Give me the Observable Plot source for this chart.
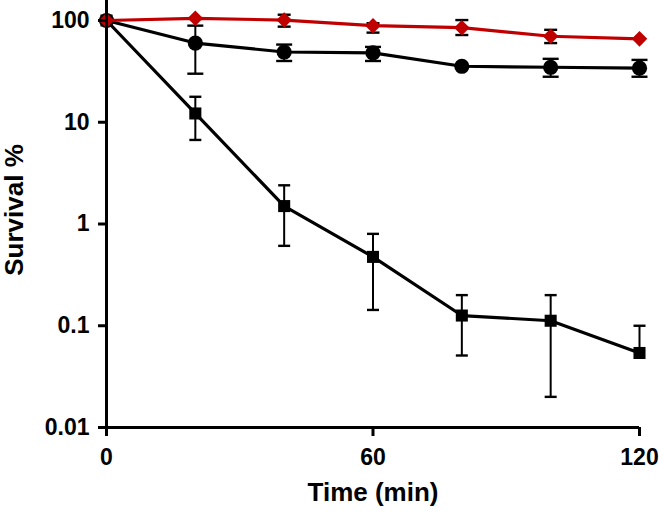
<!DOCTYPE html>
<html>
<head>
<meta charset="utf-8">
<script src="https://cdn.jsdelivr.net/npm/d3@7"></script>
<script src="https://cdn.jsdelivr.net/npm/@observablehq/plot@0.6"></script>
<style>
  html, body { margin: 0; padding: 0; background: #fff; }
  #chart svg { display: block; }
</style>
</head>
<body>
<div id="chart"></div>
<script>
// ---- data ----
const time = [0, 20, 40, 60, 80, 100, 120];

// red diamonds
const diamondVal = [100, 105, 101, 89, 85, 70, 66];
const diamondHi  = [null, null, 114, 94, 101, 81, null];
const diamondLo  = [null, null, 87, 76, 72, 60, null];

// black circles
const circleVal = [100, 60, 49, 48, 35.5, 34.7, 34];
const circleHi  = [null, 89, 58, 55, null, 42, 41];
const circleLo  = [null, 30, 40, 40, null, 28, 28];

// black squares
const squareVal = [100, 12.2, 1.5, 0.475, 0.126, 0.112, 0.054];
const squareHi  = [null, 17.8, 2.4, 0.8, 0.2, 0.2, 0.1];
const squareLo  = [null, 6.7, 0.61, 0.143, 0.051, 0.02, null];

const xTicks = [0, 60, 120];
const yTicks = [100, 10, 1, 0.1, 0.01];
const yTickLabels = ["100", "10", "1", "0.1", "0.01"];

const RED = "#c00000";

function rows(series, vals, hi, lo) {
  return time.map((t, i) => ({series, t, v: vals[i], hi: hi[i], lo: lo[i]}));
}
const diamonds = rows("diamond", diamondVal, diamondHi, diamondLo);
const circles  = rows("circle", circleVal, circleHi, circleLo);
const squares  = rows("square", squareVal, squareHi, squareLo);

function errBars(rs) {
  return rs.filter(d => d.hi != null || d.lo != null)
    .map(d => ({t: d.t, y1: d.lo ?? d.v, y2: d.hi ?? d.v}));
}
function capRows(rs) {
  const out = [];
  rs.forEach(d => {
    if (d.hi != null) out.push({t: d.t, y: d.hi});
    if (d.lo != null) out.push({t: d.t, y: d.lo});
  });
  return out;
}

// horizontal cap symbol for error bars
const capSymbol = {
  draw(ctx, size) {
    const w = Math.sqrt(size / Math.PI);
    ctx.moveTo(-w, 0);
    ctx.lineTo(w, 0);
  }
};

const errStyle = {x: "t", y1: "y1", y2: "y2", stroke: "#000", strokeWidth: 2};
const capStyle = {x: "t", y: "y", symbol: capSymbol, stroke: "#000", strokeWidth: 2.4, fill: "none"};

const chart = Plot.plot({
  width: 659,
  height: 515,
  marginLeft: 106,
  marginRight: 20,
  marginTop: 20,
  marginBottom: 88,
  style: {fontFamily: "'Liberation Sans', Arial, sans-serif", color: "#000", background: "#fff"},
  x: {domain: [0, 120]},
  y: {type: "log", domain: [0.01, 100]},
  marks: [
    // error bars
    Plot.ruleX(errBars(squares), errStyle),
    Plot.ruleX(errBars(circles), errStyle),
    Plot.ruleX(errBars(diamonds), errStyle),
    Plot.dot(capRows(squares), {...capStyle, r: 6}),
    Plot.dot(capRows(circles), {...capStyle, r: 8}),
    Plot.dot(capRows(diamonds), {...capStyle, r: 6.5}),
    // lines and markers
    Plot.line(squares, {x: "t", y: "v", stroke: "#000", strokeWidth: 3.2}),
    Plot.line(circles, {x: "t", y: "v", stroke: "#000", strokeWidth: 3.2}),
    Plot.dot(squares, {x: "t", y: "v", symbol: "square", r: 6.8, fill: "#000", stroke: "none"}),
    Plot.dot(circles, {x: "t", y: "v", symbol: "circle", r: 7.6, fill: "#000", stroke: "none"}),
    Plot.line(diamonds, {x: "t", y: "v", stroke: RED, strokeWidth: 3.2}),
    Plot.dot(diamonds, {x: "t", y: "v", symbol: "diamond2", r: 7, fill: RED, stroke: "none"}),
    // axes
    Plot.axisY({
      ticks: yTicks,
      tickFormat: d => yTickLabels[yTicks.indexOf(d)],
      tickSize: 8, tickPadding: 9, strokeWidth: 3,
      fontSize: 23, fontWeight: "bold", label: null
    }),
    Plot.axisX({
      ticks: xTicks, tickFormat: d => String(d),
      tickSize: 9, tickPadding: 12, strokeWidth: 3,
      fontSize: 23, fontWeight: "bold", label: null
    }),
    Plot.ruleX([0], {stroke: "#000", strokeWidth: 3, insetTop: -20}),
    Plot.ruleY([0.01], {stroke: "#000", strokeWidth: 3}),
    Plot.text(["Survival %"], {frameAnchor: "left", textAnchor: "middle", rotate: -90, dx: -92, dy: -14, fontSize: 26, fontWeight: "bold"}),
    Plot.text(["Time (min)"], {frameAnchor: "bottom", dy: 73, fontSize: 26, fontWeight: "bold"})
  ]
});
document.getElementById("chart").appendChild(chart);
</script>
</body>
</html>
